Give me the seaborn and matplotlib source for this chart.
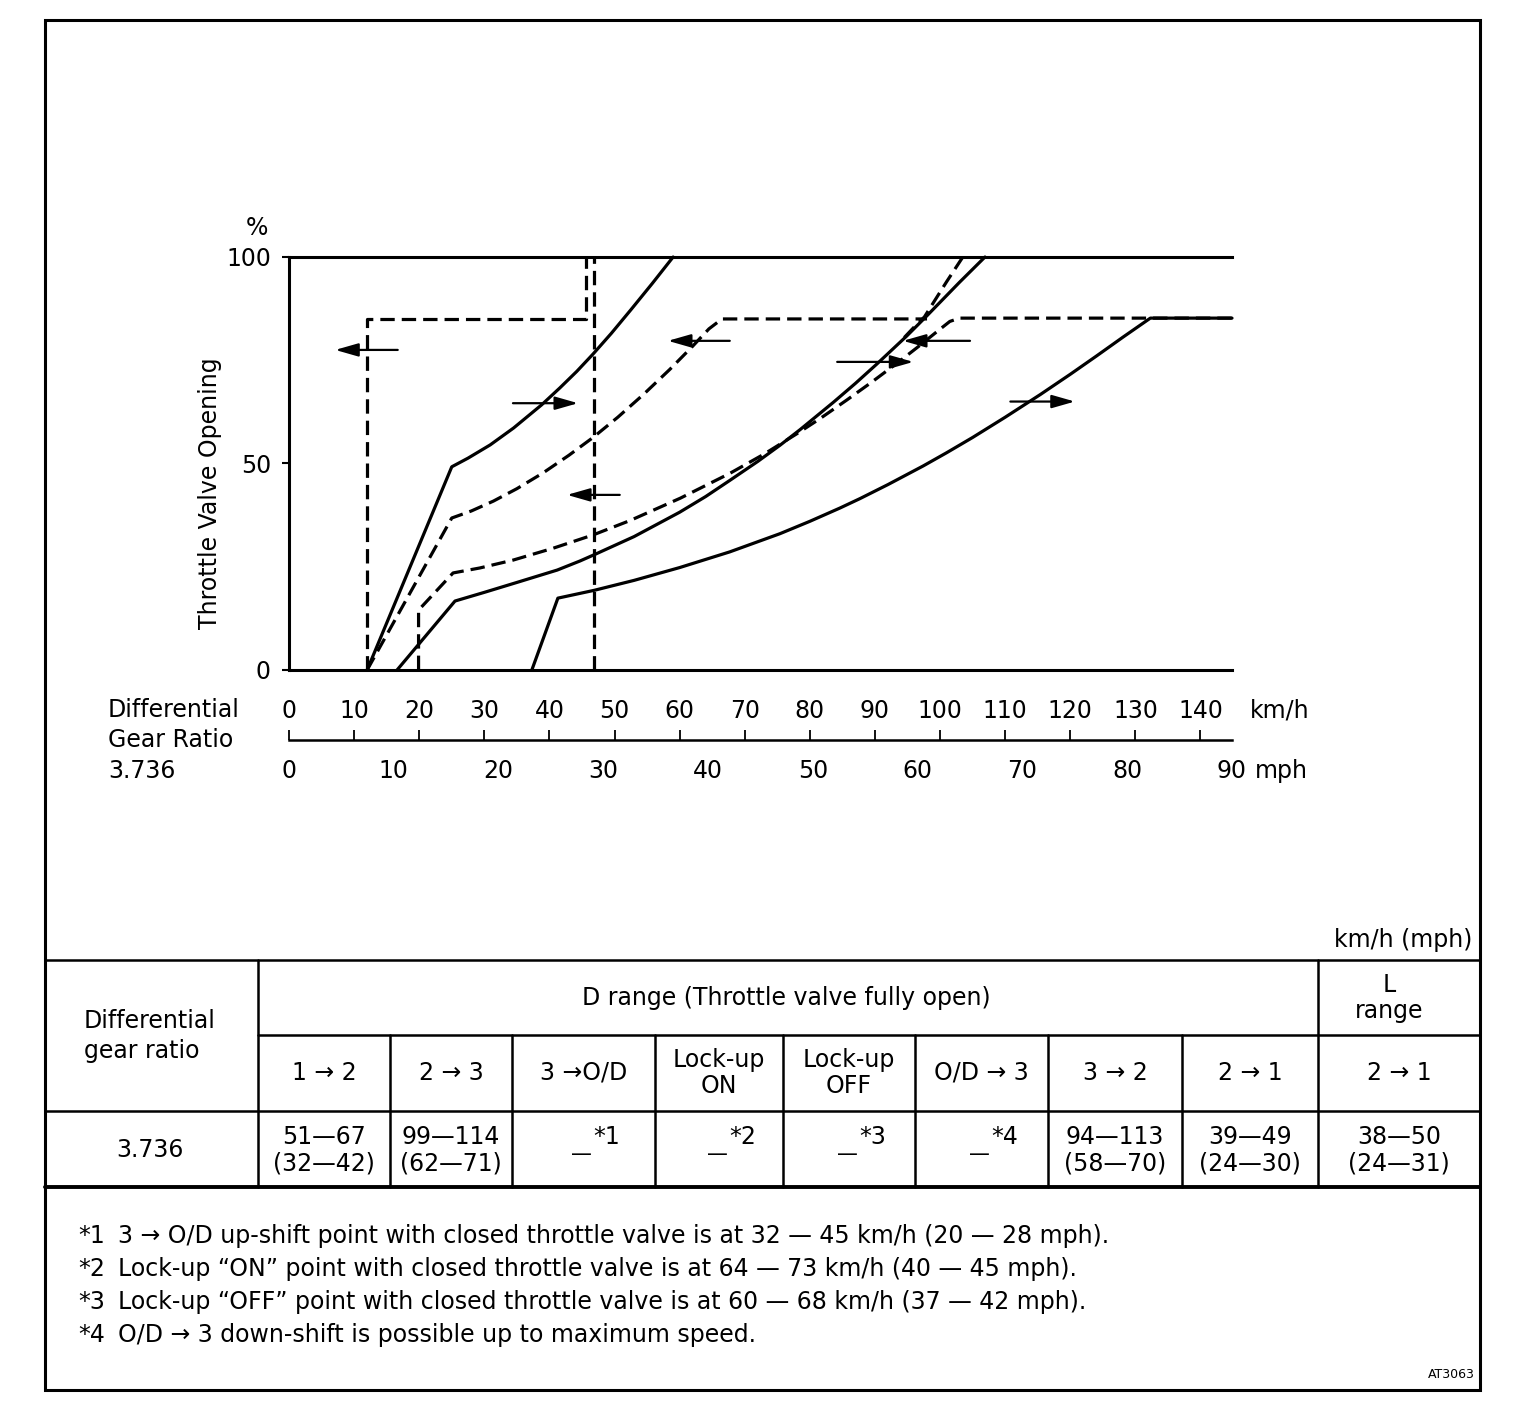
import matplotlib
matplotlib.use("Agg")
import matplotlib.pyplot as plt
import seaborn as sns
from matplotlib.lines import Line2D
from matplotlib.patches import Rectangle

W, H = 1536, 1426
KMH_MAX = 90 * 1.609344  # right end of the scale = 90 mph

# ---- shift lines (km/h, throttle %) ----
up12_kmh = [12.0, 25.0, 27.5, 30.9, 34.5, 38.8, 41.6, 44.2, 46.7, 49.5, 52.5, 55.8, 59.0]
up12_pct = [0, 49.2, 51.3, 54.5, 58.6, 64.2, 68.3, 72.3, 76.5, 81.5, 87.2, 93.6, 100]

down21_kmh = [12.0, 25.0, 28.0, 31.4, 35.0, 39.0, 43.0, 46.7, 50.5, 54.5, 58.5, 62.0, 64.5, 66.5, 98.0]
down21_pct = [0, 36.8, 38.5, 40.9, 43.9, 47.7, 52.0, 56.3, 61.2, 66.8, 72.8, 78.4, 82.6, 85, 85]

up23_kmh = [16.6, 25.5, 30.0, 35.0, 41.2, 44.7, 47.0, 53.0, 60.0, 64.0, 67.7, 72.0, 75.4, 78.5,
            83.6, 87.0, 90.3, 94.9, 98.0, 103.0, 106.9]
up23_pct = [0, 16.7, 18.8, 21.2, 24.2, 26.4, 28.0, 32.3, 38.2, 42.0, 45.9, 50.5, 54.4, 58.2,
            64.8, 69.4, 74.1, 80.9, 85.8, 93.9, 100]

down32_kmh = [19.9, 19.9, 25.2, 29.3, 34.4, 40.6, 46.7, 52.4, 60.1, 67.7, 73.0, 78.0, 81.5,
              85.7, 89.5, 93.4, 96.5, 99.5, 101.5, 103.0, KMH_MAX]
down32_pct = [0, 14.5, 23.5, 24.7, 26.6, 29.5, 32.7, 36.2, 41.6, 47.6, 52.3, 57.2, 60.8,
              65.4, 69.7, 74.3, 78.1, 81.9, 84.4, 85.2, 85.2]

steep_kmh = [103.5, 101.0, 99.0, 97.6, 96.0, 94.5]
steep_pct = [100, 94.0, 89.0, 85.5, 83.0, 80.5]

up3od_kmh = [37.3, 41.3, 46.9, 53.0, 60.0, 67.7, 75.4, 80.0, 84.6, 87.7, 92.0, 97.4, 101.0,
             105.0, 110.0, 115.4, 120.0, 124.0, 128.1, 132.3, KMH_MAX]
up3od_pct = [0, 17.4, 19.3, 21.7, 24.8, 28.6, 33.0, 36.0, 39.2, 41.5, 44.9, 49.4, 52.6,
             56.3, 61.2, 66.7, 71.6, 76.0, 80.6, 85.2, 85.2]

box_kmh = [12.0, 12.0, 45.6, 45.6]
box_pct = [0, 85, 85, 100]

vline_kmh = [46.9, 46.9]
vline_pct = [0, 100]

# arrows: tail km/h, head km/h, throttle %
arrow_tail = [16.7, 34.4, 50.8, 67.7, 84.2, 104.6, 110.8]
arrow_head = [7.1, 44.4, 42.7, 58.2, 95.9, 94.3, 120.7]
arrow_pct = [77.5, 64.6, 42.4, 79.7, 74.6, 79.7, 65.0]

kmh_ticks = [0, 10, 20, 30, 40, 50, 60, 70, 80, 90, 100, 110, 120, 130, 140]
mph_ticks = [0, 10, 20, 30, 40, 50, 60, 70, 80, 90]
pct_ticks = [0, 50, 100]

# ---- table ----
col_heads = ["1 → 2", "2 → 3", "3 →O/D", "Lock-up\nON", "Lock-up\nOFF", "O/D → 3",
             "3 → 2", "2 → 1", "2 → 1"]
col_vals = ["51—67\n(32—42)", "99—114\n(62—71)", "*1", "*2", "*3", "*4",
            "94—113\n(58—70)", "39—49\n(24—30)", "38—50\n(24—31)"]
gear_ratio = "3.736"

notes_key = ["*1", "*2", "*3", "*4"]
notes_text = [
    "3 → O/D up-shift point with closed throttle valve is at 32 — 45 km/h (20 — 28 mph).",
    "Lock-up “ON” point with closed throttle valve is at 64 — 73 km/h (40 — 45 mph).",
    "Lock-up “OFF” point with closed throttle valve is at 60 — 68 km/h (37 — 42 mph).",
    "O/D → 3 down-shift is possible up to maximum speed.",
]


def fx(px):
    return px / W


def fy(py):
    return 1 - py / H


sns.set_style("white")
plt.rcParams["font.family"] = ["DejaVu Sans"]
plt.rcParams["font.size"] = 17
plt.rcParams["text.color"] = "black"
plt.rcParams["xtick.color"] = "black"
plt.rcParams["ytick.color"] = "black"
FS = 17
LW = 2.3
DASH = (0, (4.5, 2.2))

fig = plt.figure(figsize=(W / 100, H / 100), dpi=100)
ax = fig.add_axes([fx(289), fy(670), fx(1232) - fx(289), fy(257) - fy(670)])

solid = [(up12_kmh, up12_pct), (up23_kmh, up23_pct), (up3od_kmh, up3od_pct)]
dashed = [(down21_kmh, down21_pct), (down32_kmh, down32_pct), (steep_kmh, steep_pct),
          (box_kmh, box_pct), (vline_kmh, vline_pct)]
for xs, ys in solid:
    sns.lineplot(x=xs, y=ys, ax=ax, sort=False, estimator=None, color="black",
                 linewidth=LW, clip_on=False)
for xs, ys in dashed:
    sns.lineplot(x=xs, y=ys, ax=ax, sort=False, estimator=None, color="black",
                 linewidth=LW, linestyle=DASH, clip_on=False)

for t, h, p in zip(arrow_tail, arrow_head, arrow_pct):
    ax.annotate("", xy=(h, p), xytext=(t, p),
                arrowprops=dict(arrowstyle="-|>,head_length=0.7,head_width=0.2",
                                lw=1.6, color="black", shrinkA=0, shrinkB=0,
                                mutation_scale=20))

ax.set_xlim(0, KMH_MAX)
ax.set_ylim(0, 100)
for s in ["top", "left", "bottom"]:
    ax.spines[s].set_linewidth(2.2)
    ax.spines[s].set_color("black")
ax.spines["right"].set_visible(False)
ax.set_yticks(pct_ticks)
ax.set_yticklabels([str(v) for v in pct_ticks])
ax.set_xticks(kmh_ticks)
ax.set_xticklabels([str(v) for v in kmh_ticks])
ax.tick_params(axis="y", direction="out", length=5, width=1.5, pad=8, labelsize=FS, left=True)
ax.tick_params(axis="x", length=0, pad=21, labelsize=FS, bottom=True)
ax.set_xlabel("")
ax.set_ylabel("")
ax.grid(False)

# dual km/h / mph scale
sc = fig.add_axes([fx(289), fy(740), fx(1232) - fx(289), 0.00001])
sc.set_xlim(0, KMH_MAX)
sc.set_yticks([])
for s in ["top", "left", "right"]:
    sc.spines[s].set_visible(False)
sc.spines["bottom"].set_linewidth(1.8)
sc.spines["bottom"].set_color("black")
sc.set_xticks([m * 1.609344 for m in mph_ticks])
sc.set_xticklabels([str(m) for m in mph_ticks])
sc.tick_params(axis="x", direction="out", length=7, width=1.3, pad=7, labelsize=FS)
top = sc.secondary_xaxis("top")
top.set_xticks(kmh_ticks)
top.set_xticklabels([])
top.tick_params(direction="out", length=7, width=1.3)
top.spines["top"].set_visible(False)

# axis texts
fig.text(fx(257), fy(228), "%", ha="center", va="center", fontsize=FS)
fig.text(fx(210), fy(493), "Throttle Valve Opening", rotation=90, ha="center", va="center",
         fontsize=FS)
fig.text(fx(108), fy(710), "Differential", ha="left", va="center", fontsize=FS)
fig.text(fx(108), fy(740), "Gear Ratio", ha="left", va="center", fontsize=FS)
fig.text(fx(108), fy(771), gear_ratio, ha="left", va="center", fontsize=FS)
fig.text(fx(1250), fy(710), "km/h", ha="left", va="center", fontsize=FS)
fig.text(fx(1255), fy(771), "mph", ha="left", va="center", fontsize=FS)

# frame
fig.add_artist(Rectangle((fx(45), fy(1390)), fx(1480) - fx(45), fy(20) - fy(1390),
                         fill=False, lw=2.2, edgecolor="black", transform=fig.transFigure))


def hline(y, x0, x1, lw=1.8):
    fig.add_artist(Line2D([fx(x0), fx(x1)], [fy(y), fy(y)], lw=lw, color="black",
                          transform=fig.transFigure))


def vline(x, y0, y1, lw=1.8):
    fig.add_artist(Line2D([fx(x), fx(x)], [fy(y0), fy(y1)], lw=lw, color="black",
                          transform=fig.transFigure))


col_edges = [258, 390, 512, 655, 783, 915, 1048, 1182, 1318, 1480]
hline(960, 45, 1480)
hline(1035, 258, 1480)
hline(1111, 45, 1480)
hline(1187, 45, 1480, lw=2.8)
vline(258, 960, 1187)
vline(1318, 960, 1187)
for x in col_edges[1:-2]:
    vline(x, 1035, 1187)

fig.text(fx(1472), fy(940), "km/h (mph)", ha="right", va="center", fontsize=FS)
fig.text(fx(84), fy(1036), "Differential\ngear ratio", ha="left", va="center",
         fontsize=FS, linespacing=1.3)
fig.text(fx(786), fy(998), "D range (Throttle valve fully open)", ha="center", va="center",
         fontsize=FS)
fig.text(fx(1389), fy(998), "L\nrange", ha="center", va="center", fontsize=FS,
         linespacing=1.15)
fig.text(fx(150), fy(1150), gear_ratio, ha="center", va="center", fontsize=FS)

for i, (head, val) in enumerate(zip(col_heads, col_vals)):
    cx = (col_edges[i] + col_edges[i + 1]) / 2
    fig.text(fx(cx), fy(1073), head, ha="center", va="center", fontsize=FS, linespacing=1.15)
    if val.startswith("*"):
        fig.text(fx(cx - 2), fy(1154), "—", ha="center", va="center", fontsize=15)
        fig.text(fx(cx + 10), fy(1137), val, ha="left", va="center", fontsize=FS)
    else:
        fig.text(fx(cx), fy(1150), val, ha="center", va="center", fontsize=FS,
                 linespacing=1.15)

for i, (k, t) in enumerate(zip(notes_key, notes_text)):
    y = 1236 + 33 * i
    fig.text(fx(78), fy(y), k, ha="left", va="center", fontsize=FS)
    fig.text(fx(118), fy(y), t, ha="left", va="center", fontsize=FS)

fig.text(fx(1475), fy(1375), "AT3063", ha="right", va="center", fontsize=9)

fig.savefig("out.png", dpi=100, facecolor="white")
